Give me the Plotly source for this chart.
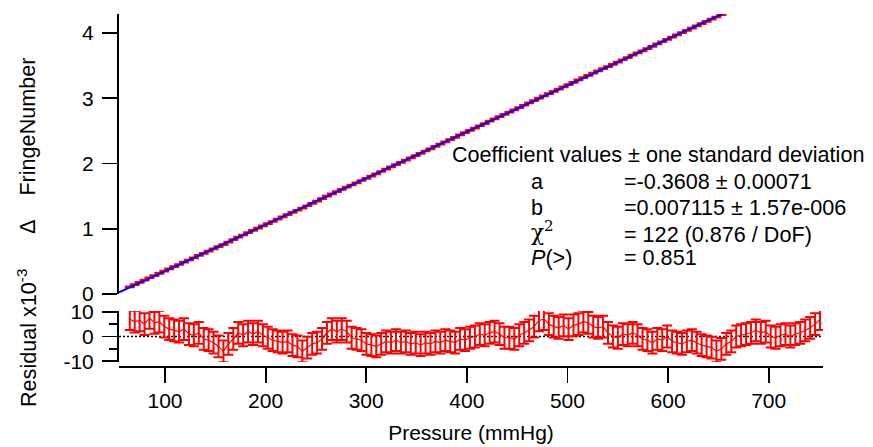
import plotly.graph_objects as go

# ---------------- data ----------------
pressure = [
    65.0, 69.9, 74.8, 79.7, 84.6, 89.5, 94.4, 99.3, 104.2, 109.1,
    114.0, 118.9, 123.8, 128.7, 133.6, 138.5, 143.4, 148.3, 153.2, 158.1,
    163.0, 167.9, 172.8, 177.7, 182.6, 187.5, 192.4, 197.3, 202.2, 207.1,
    212.0, 216.9, 221.8, 226.7, 231.6, 236.5, 241.4, 246.3, 251.2, 256.1,
    261.0, 265.9, 270.8, 275.7, 280.6, 285.5, 290.4, 295.3, 300.2, 305.1,
    310.0, 314.9, 319.8, 324.7, 329.6, 334.5, 339.4, 344.3, 349.2, 354.1,
    359.0, 363.9, 368.8, 373.7, 378.6, 383.5, 388.4, 393.3, 398.2, 403.1,
    408.0, 412.9, 417.8, 422.7, 427.6, 432.5, 437.4, 442.3, 447.2, 452.1,
    457.0, 461.9, 466.8, 471.7, 476.6, 481.5, 486.4, 491.3, 496.2, 501.1,
    506.0, 510.9, 515.8, 520.7, 525.6, 530.5, 535.4, 540.3, 545.2, 550.1,
    555.0, 559.9, 564.8, 569.7, 574.6, 579.5, 584.4, 589.3, 594.2, 599.1,
    604.0, 608.9, 613.8, 618.7, 623.6, 628.5, 633.4, 638.3, 643.2, 648.1,
    653.0, 657.9, 662.8, 667.7, 672.6, 677.5, 682.4, 687.3, 692.2, 697.1,
    702.0, 706.9, 711.8, 716.7, 721.6, 726.5, 731.4, 736.3, 741.2, 746.1,
    751.0,
]

fringe_number = [
    0.109, 0.143, 0.178, 0.211, 0.249, 0.281, 0.317, 0.350, 0.384, 0.418,
    0.452, 0.488, 0.521, 0.555, 0.591, 0.624, 0.658, 0.692, 0.725, 0.758,
    0.796, 0.833, 0.870, 0.904, 0.940, 0.974, 1.010, 1.043, 1.077, 1.111,
    1.146, 1.180, 1.215, 1.249, 1.283, 1.316, 1.352, 1.389, 1.424, 1.460,
    1.498, 1.534, 1.568, 1.604, 1.638, 1.670, 1.704, 1.739, 1.772, 1.806,
    1.841, 1.877, 1.913, 1.947, 1.983, 2.017, 2.052, 2.086, 2.121, 2.155,
    2.191, 2.225, 2.261, 2.296, 2.331, 2.366, 2.400, 2.437, 2.471, 2.507,
    2.542, 2.578, 2.612, 2.648, 2.684, 2.717, 2.751, 2.786, 2.820, 2.856,
    2.892, 2.928, 2.964, 3.002, 3.037, 3.070, 3.104, 3.138, 3.174, 3.208,
    3.244, 3.279, 3.315, 3.349, 3.383, 3.417, 3.453, 3.485, 3.518, 3.553,
    3.589, 3.623, 3.659, 3.693, 3.726, 3.761, 3.795, 3.831, 3.865, 3.902,
    3.935, 3.969, 4.003, 4.039, 4.075, 4.108, 4.142, 4.177, 4.211, 4.244,
    4.280, 4.317, 4.353, 4.390, 4.425, 4.461, 4.496, 4.532, 4.566, 4.601,
    4.634, 4.668, 4.704, 4.740, 4.773, 4.809, 4.845, 4.880, 4.916, 4.953,
    4.990,
]

residual_e3 = [
    7.0, 6.0, 6.5, 5.0, 7.5, 5.5, 6.0, 4.0, 3.0, 2.5,
    2.0, 3.0, 1.0, 0.5, 1.5, -1.0, -1.5, -2.5, -4.0, -6.0,
    -3.0, -1.0, 1.5, 0.5, 2.0, 1.0, 2.0, 0.5, -0.5, -1.5,
    -2.0, -2.5, -2.0, -3.5, -4.0, -6.0, -4.5, -3.0, -2.5, -1.0,
    1.5, 3.0, 2.0, 3.0, 2.0, -0.5, -1.0, -1.5, -3.0, -3.5,
    -4.0, -3.0, -2.0, -2.5, -1.5, -2.5, -2.0, -3.0, -2.5, -3.5,
    -2.5, -3.0, -2.0, -2.5, -1.5, -2.0, -2.5, -1.0, -1.5, -0.5,
    0.0, 1.0, 0.5, 1.5, 2.0, 1.0, -0.5, -0.5, -1.0, 0.5,
    1.5, 2.5, 4.0, 6.5, 7.0, 5.0, 4.0, 3.5, 4.5, 3.0,
    4.5, 5.0, 6.0, 5.5, 4.0, 3.5, 4.0, 1.5, 0.0, -0.5,
    1.0, 0.5, 1.5, 0.5, -1.0, -1.5, -2.5, -1.0, -1.5, 0.0,
    -2.0, -2.5, -3.0, -2.0, -1.5, -2.5, -3.5, -4.0, -4.5, -6.0,
    -5.0, -3.0, -2.0, 0.0, 0.5, 1.0, 1.5, 2.5, 1.5, 2.0,
    0.0, -0.5, 0.5, 1.0, 0.0, 1.0, 1.5, 2.5, 3.5, 5.0,
    7.0,
]

fringe_err = 0.004      # one standard deviation, fringes
residual_err_e3 = 4.4   # one standard deviation, x10^-3 fringes

# fit coefficients: FringeNumber = a + b * Pressure
coef_a = -0.3608
coef_b = 0.007115
x_range = [54.3, 754.0]
fit_x = x_range
fit_y = [coef_a + coef_b * p for p in fit_x]

x_ticks = [100, 200, 300, 400, 500, 600, 700]
y_ticks = [0, 1, 2, 3, 4]
res_ticks = [-10, 0, 10]
res_ticktext = ["-10", "0", "10"]

# ---------------- figure ----------------
RED = "#ff0000"
FONT = "Liberation Sans, Arial, sans-serif"
FS = 21
FS_TXT = 21.6

fig = go.Figure()

fig.add_trace(go.Scatter(
    x=pressure, y=fringe_number, mode="lines",
    line=dict(color=RED, width=1.5),
    error_y=dict(type="constant", value=fringe_err, color=RED,
                 thickness=2.2, width=5),
    xaxis="x", yaxis="y", showlegend=False,
))
fig.add_trace(go.Scatter(
    x=fit_x, y=fit_y, mode="lines",
    line=dict(color="#0000ff", width=2),
    xaxis="x", yaxis="y", showlegend=False,
))
fig.add_trace(go.Scatter(
    x=pressure, y=residual_e3, mode="lines",
    line=dict(color=RED, width=1.2),
    error_y=dict(type="constant", value=residual_err_e3, color=RED,
                 thickness=2, width=5),
    xaxis="x2", yaxis="y2", showlegend=False, cliponaxis=False,
))

H_PLOT = 447 - 14 - 80  # 353
W_PLOT = 873 - 119 - 50  # 704


def py(pix):
    return (367 - pix) / H_PLOT


def px(pix):
    return (pix - 119) / W_PLOT


axis_common = dict(
    showgrid=False, zeroline=False, ticks="outside", ticklen=15,
    tickwidth=1.8, tickcolor="black", linecolor="black", linewidth=2,
    tickfont=dict(family=FONT, size=FS, color="black"),
    automargin=False,
)

fig.update_layout(
    template="none",
    width=873, height=447, autosize=False,
    margin=dict(l=119, r=50, t=14, b=80, autoexpand=False),
    paper_bgcolor="white", plot_bgcolor="white",
    font=dict(family=FONT, size=FS, color="black"),
    xaxis=dict(domain=[0, 1], anchor="y", range=x_range, visible=False,
               matches="x2"),
    yaxis=dict(domain=[py(294), 1], anchor="x", range=[0, 4.29],
               tickmode="array", tickvals=y_ticks, showline=True,
               ticklabelstandoff=4, **axis_common),
    xaxis2=dict(domain=[0, 1], anchor="free", position=0, range=x_range,
                tickmode="array", tickvals=x_ticks, showline=True,
                title=dict(text="Pressure (mmHg)",
                           font=dict(family=FONT, size=FS), standoff=13),
                **axis_common),
    yaxis2=dict(domain=[py(362), py(311)], anchor="x2", range=[-10.3, 10.3],
                tickmode="array", tickvals=res_ticks, ticktext=res_ticktext,
                showline=True, ticklabelstandoff=4,
                minor=dict(tickmode="array", tickvals=[-5, 5], ticklen=8,
                           tickwidth=1.8, tickcolor="black", ticks="outside"),
                **axis_common),
)

fig.add_shape(type="line", xref="x2 domain", x0=0, x1=1, yref="y2",
              y0=0, y1=0, layer="below",
              line=dict(color="black", width=1.5, dash="2px,2px"))

ann_font = dict(family=FONT, size=FS_TXT, color="black")


def add_text(text, xpix, ypix, anchor="left", angle=0, font=None):
    fig.add_annotation(text=text, xref="paper", yref="paper",
                       x=px(xpix), y=py(ypix), xanchor=anchor,
                       yanchor="middle", showarrow=False,
                       font=font or ann_font, textangle=angle)


add_text("Coefficient values ± one standard deviation", 450, 155)
add_text("a", 529, 181)
add_text("=-0.3608 ± 0.00071", 622, 181)
add_text("b", 529, 208)
add_text("=0.007115 ± 1.57e-006", 622, 208)
add_text("χ<sup>2</sup>", 529, 231,
         font=dict(family="DejaVu Serif, serif", size=FS_TXT, color="black"))
add_text("= 122 (0.876 / DoF)", 622, 234)
add_text("<i>P</i>(&gt;)", 529, 257)
add_text("= 0.851", 622, 257)

add_text("Δ&nbsp;&nbsp;&nbsp;&nbsp;FringeNumber", 27, 146, anchor="center",
         angle=-90)
add_text("Residual x10<sup>-3</sup>", 27, 338, anchor="center", angle=-90)

# remove the default page margin so the figure sits at the window origin
fig.write_html("out.html",
               config={"displayModeBar": False, "staticPlot": True},
               post_script="document.body.style.margin='0px';")
